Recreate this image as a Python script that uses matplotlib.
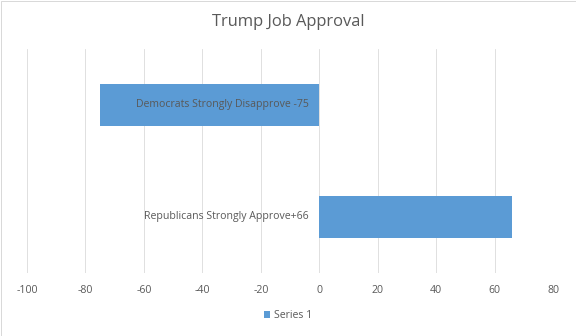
import matplotlib.pyplot as plt
from matplotlib.patches import Rectangle

categories = ["Republicans Strongly Approve+66", "Democrats Strongly Disapprove -75"]
values = [66, -75]
xticks = [-100, -80, -60, -40, -20, 0, 20, 40, 60, 80]

bar_color = "#5B9BD5"
text_color = "#595959"
grid_color = "#D9D9D9"

fig = plt.figure(figsize=(8, 336 / 72), dpi=72)
ax = fig.add_axes([27 / 576, 1 - 273 / 336, (553 - 27) / 576, (273 - 49) / 336])

ax.barh(range(len(values)), values, height=0.37, color=bar_color, label="Series 1", zorder=2)
ax.set_xlim(-100, 80)
ax.set_ylim(-0.5, 1.5)
ax.set_xticks(xticks)
ax.set_xticklabels([str(t) for t in xticks], color=text_color, fontsize=10.5, family="Open Sans")
ax.set_yticks([])
ax.tick_params(axis="x", length=0, pad=12)
ax.grid(axis="x", color=grid_color, linewidth=0.8, zorder=0)
for s in ax.spines.values():
    s.set_visible(False)

# category labels sit next to the zero line
for i, c in enumerate(categories):
    ax.text(-3.5, i, c, ha="right", va="center", fontsize=10.5, color=text_color,
            family="Open Sans", zorder=3)

fig.text(0.5, 1 - 22 / 336, "Trump Job Approval", ha="center", va="center",
         fontsize=16.5, color=text_color, family="Open Sans")

fig.legend(loc="center", bbox_to_anchor=(0.5, 1 - 316 / 336), frameon=False,
           handlelength=0.6, handleheight=0.6, handletextpad=0.3,
           prop={"family": "Open Sans", "size": 10.5}, labelcolor=text_color)

fig.patches.append(Rectangle((0.5 / 576, 0.5 / 336), 575 / 576, 335 / 336, transform=fig.transFigure,
                             fill=False, edgecolor=grid_color, linewidth=1))

fig.savefig("out.png", dpi=72)
